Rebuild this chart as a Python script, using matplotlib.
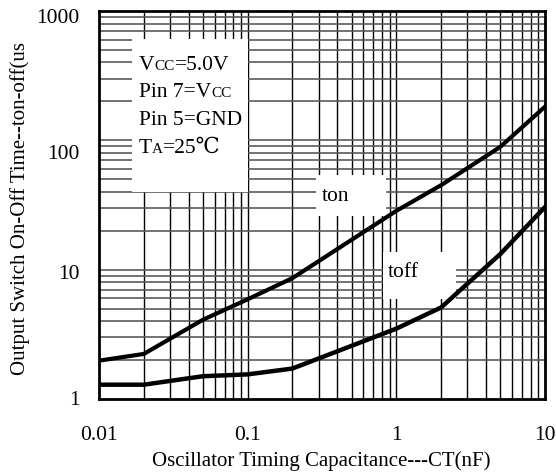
import matplotlib
matplotlib.use("Agg")
import matplotlib.pyplot as plt
import matplotlib.transforms as mtrans
from matplotlib.patches import Rectangle
import numpy as np

# ---- data ----
ct_nf = [0.01, 0.02, 0.05, 0.1, 0.2, 1, 2, 5, 10]
t_on = [1.98, 2.23, 4.1, 5.9, 8.6, 28.5, 45, 89, 182]
t_off = [1.29, 1.29, 1.50, 1.55, 1.72, 3.5, 5.1, 13.2, 30.5]
x_ticks = [0.01, 0.1, 1, 10]
x_ticklabels = ["0.01", "0.1", "1", "10"]
y_ticks = [1, 10, 100, 1000]
y_ticklabels = ["1", "10", "100", "1000"]

FAM = ["Liberation Serif", "DejaVu Serif", "DejaVu Sans", "Noto Sans CJK JP"]
plt.rcParams["font.family"] = FAM

W, H = 556, 477
fig = plt.figure(figsize=(W / 100, H / 100), dpi=100)
L, R, T, B = 99, 545, 12, 400
ax = fig.add_axes([L / W, (H - B) / H, (R - L) / W, (B - T) / H])
ax.set_xscale("log")
ax.set_yscale("log")
ax.set_xlim(0.01, 10)
ax.set_ylim(1, 1000)

# grid
for dec in [0.01, 0.1, 1]:
    for m in range(1, 10):
        v = dec * m
        if v > 0.01:
            ax.axvline(v, color="black", lw=1.0, zorder=1)
for dec in [1, 10, 100]:
    for m in range(1, 10):
        v = dec * m
        if v > 1:
            ax.axhline(v, color="#5a5a5a", lw=1.2, zorder=1)

# white boxes
def box(x0, y0, x1, y1):
    ax.add_patch(Rectangle((x0, y0), x1 - x0, y1 - y0, transform=ax.transAxes,
                           facecolor="white", edgecolor="none", zorder=2))

box(0.074, 0.5335, 0.334, 0.928)
box(0.4865, 0.4716, 0.6435, 0.577)
box(0.636, 0.2577, 0.8004, 0.3796)

ax.plot(ct_nf, t_on, color="black", lw=3.0, zorder=4, solid_joinstyle="miter")
ax.plot(ct_nf, t_off, color="black", lw=3.2, zorder=4, solid_joinstyle="miter")

for s in ax.spines.values():
    s.set_linewidth(2.0)
    s.set_zorder(5)

ax.set_xticks(x_ticks)
ax.set_xticklabels(x_ticklabels)
ax.set_yticks(y_ticks)
ax.set_yticklabels(y_ticklabels)
ax.minorticks_off()
ax.tick_params(axis="both", length=0, labelsize=15.5)
ax.tick_params(axis="x", pad=19)
ax.tick_params(axis="y", pad=14)

# small vertical offsets of the y tick labels (as in the reference)
y_off_px = {"1000": -4, "100": -11, "10": -1, "1": 2}
for lab, txt in zip(ax.get_yticklabels(), y_ticklabels):
    lab.set_transform(lab.get_transform() + mtrans.ScaledTranslation(
        0, y_off_px[txt] / 100, fig.dpi_scale_trans))

fig.text(153 / W + (490 - 153) / 2 / W, (H - 461) / H,
         "Oscillator Timing Capacitance---CT(nF)", ha="center", va="center",
         fontsize=15)
fig.text(20 / W, (H - 375) / H, "Output Switch On-Off Time--ton-off(us",
         rotation=90, ha="center", va="bottom", fontsize=15)

fig.canvas.draw()
renderer = fig.canvas.get_renderer()

def rich(xpx, ybase_px, parts):
    x = xpx
    for s, fs in parts:
        t = fig.text(x / W, (H - ybase_px) / H, s, fontsize=fs, ha="left",
                     va="baseline", zorder=6)
        bb = t.get_window_extent(renderer)
        x += bb.width

rich(139, 70, [("V", 15.5), ("CC", 11), ("=5.0V", 15.5)])
rich(139, 97, [("Pin 7=V", 15.5), ("CC", 11)])
rich(139, 125, [("Pin 5=GND", 15.5)])
rich(139, 153, [("T", 15.5), ("A", 11), ("=25℃", 15.5)])
rich(322, 201, [("ton", 15.5)])
rich(388, 277, [("toff", 15.5)])

fig.savefig("out.png", dpi=100)
